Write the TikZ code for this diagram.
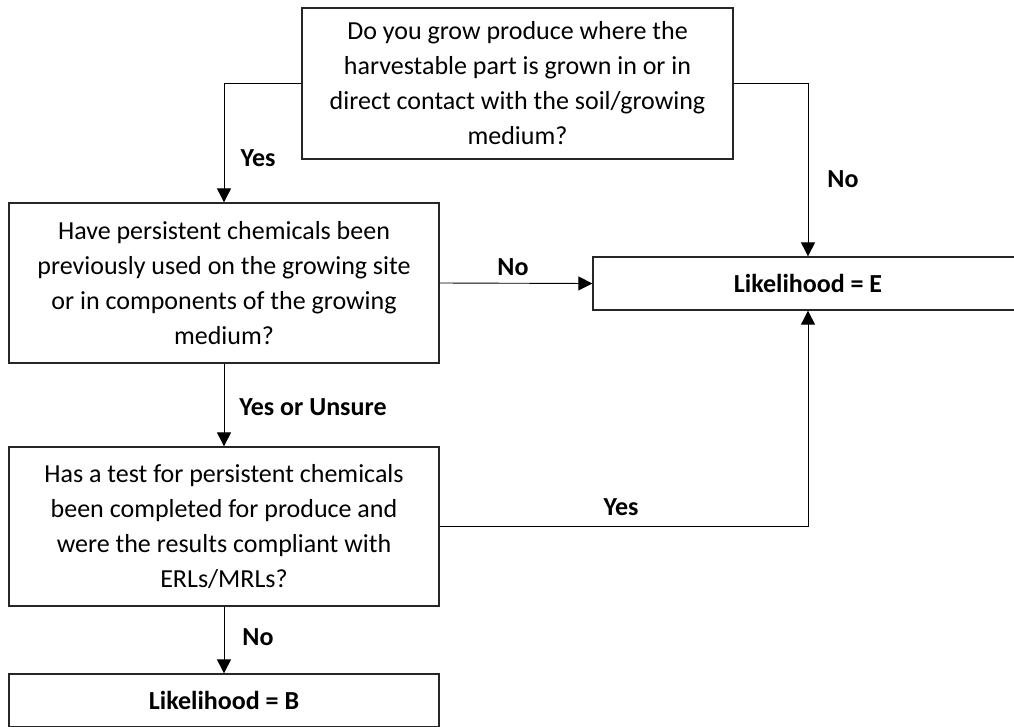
\documentclass[tikz,border=0pt]{standalone}
\usepackage{fontspec}
\setmainfont{Carlito}
\usetikzlibrary{arrows.meta}
\begin{document}
\begin{tikzpicture}[x=1pt,y=-1pt,
  box/.style={draw=black!85,line width=1.3pt,fill=white,align=center,inner sep=0pt,
    minimum width=430pt,font=\fontsize{26}{35}\selectfont},
  arr/.style={line width=0.9pt,-{Triangle[length=14pt,width=14pt]}},
  lab/.style={font=\fontsize{26}{30}\selectfont\bfseries,inner sep=0pt}]
\useasboundingbox (0,0) rectangle (1014,726);
\clip (0,0) rectangle (1014,726);
\fill[white] (0,0) rectangle (1014,726);
\node[box,minimum height=151pt,minimum width=431pt] (top) at (517.5,83.5)
  {Do you grow produce where the\\harvestable part is grown in or in\\direct contact with the soil/growing\\medium?};
\node[box,minimum height=160pt] (q2) at (224,283)
  {Have persistent chemicals been\\previously used on the growing site\\or in components of the growing\\medium?};
\node[box,minimum height=53pt] (E) at (808,283.5) {\bfseries Likelihood = E};
\node[box,minimum height=159pt] (q3) at (224,526.5)
  {Has a test for persistent chemicals\\been completed for produce and\\were the results compliant with\\ERLs/MRLs?};
\node[box,minimum height=53pt] (B) at (224,700.5) {\bfseries Likelihood = B};
\draw[arr] (top.west) -| (q2.north);
\draw[arr] (top.east) -| (E.north);
\draw[arr] (q2.east) -- (E.west);
\draw[arr] (q2.south) -- (q3.north);
\draw[arr] (q3.east) -| (E.south);
\draw[arr] (q3.south) -- (B.north);
\node[lab] (l1) at (258,158) {Yes};
\node[lab] (l2) at (843,179) {No};
\node[lab] (l3) at (513,267) {No};
\node[lab] (l4) at (313,407) {Yes or Unsure};
\node[lab] (l5) at (621,507) {Yes};
\node[lab] (l6) at (258,637) {No};
\end{tikzpicture}
\end{document}
